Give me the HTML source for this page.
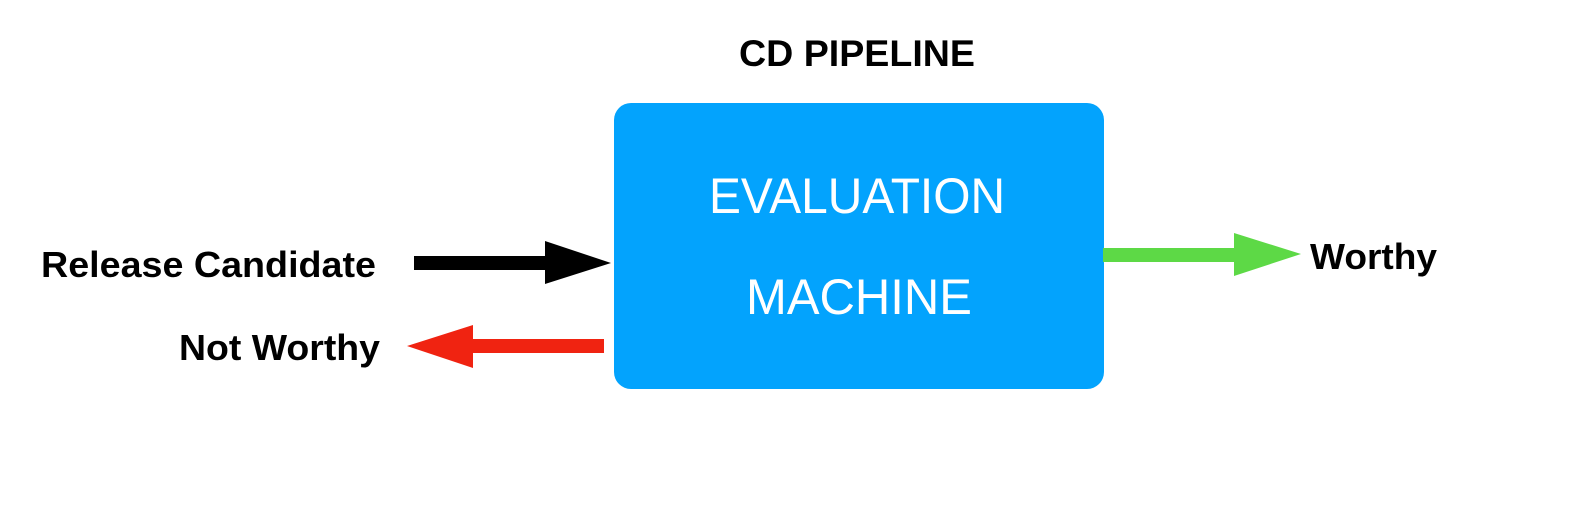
<!DOCTYPE html>
<html><head><style>html,body{margin:0;padding:0;background:#fff;}svg{display:block}</style></head>
<body>
<svg width="1592" height="508" viewBox="0 0 1592 508" xmlns="http://www.w3.org/2000/svg">
<rect x="0" y="0" width="1592" height="508" fill="#fff"/>
<text x="739" y="66" font-family="Liberation Sans, sans-serif" font-weight="bold" font-size="37" textLength="236" lengthAdjust="spacingAndGlyphs" fill="#000">CD PIPELINE</text>
<rect x="614" y="103" width="490" height="286" rx="17" fill="#03a3fd"/>
<text x="709" y="213" font-family="Liberation Sans, sans-serif" font-size="50" textLength="296" lengthAdjust="spacingAndGlyphs" fill="#fff">EVALUATION</text>
<text x="746" y="314" font-family="Liberation Sans, sans-serif" font-size="50" textLength="226" lengthAdjust="spacingAndGlyphs" fill="#fff">MACHINE</text>
<text x="41" y="277" font-family="Liberation Sans, sans-serif" font-weight="bold" font-size="36" textLength="335" lengthAdjust="spacingAndGlyphs" fill="#000">Release Candidate</text>
<text x="179" y="360" font-family="Liberation Sans, sans-serif" font-weight="bold" font-size="36" textLength="201" lengthAdjust="spacingAndGlyphs" fill="#000">Not Worthy</text>
<text x="1310" y="269" font-family="Liberation Sans, sans-serif" font-weight="bold" font-size="36" textLength="127" lengthAdjust="spacingAndGlyphs" fill="#000">Worthy</text>
<polygon points="414,256 545,256 545,241 611,263 545,284 545,270 414,270" fill="#000"/>
<polygon points="604,339 473,339 473,325 407,346 473,368 473,353 604,353" fill="#f02311"/>
<polygon points="1103,248 1234,248 1234,233 1301,254 1234,276 1234,262 1103,262" fill="#5dd946"/>
</svg>
</body></html>
